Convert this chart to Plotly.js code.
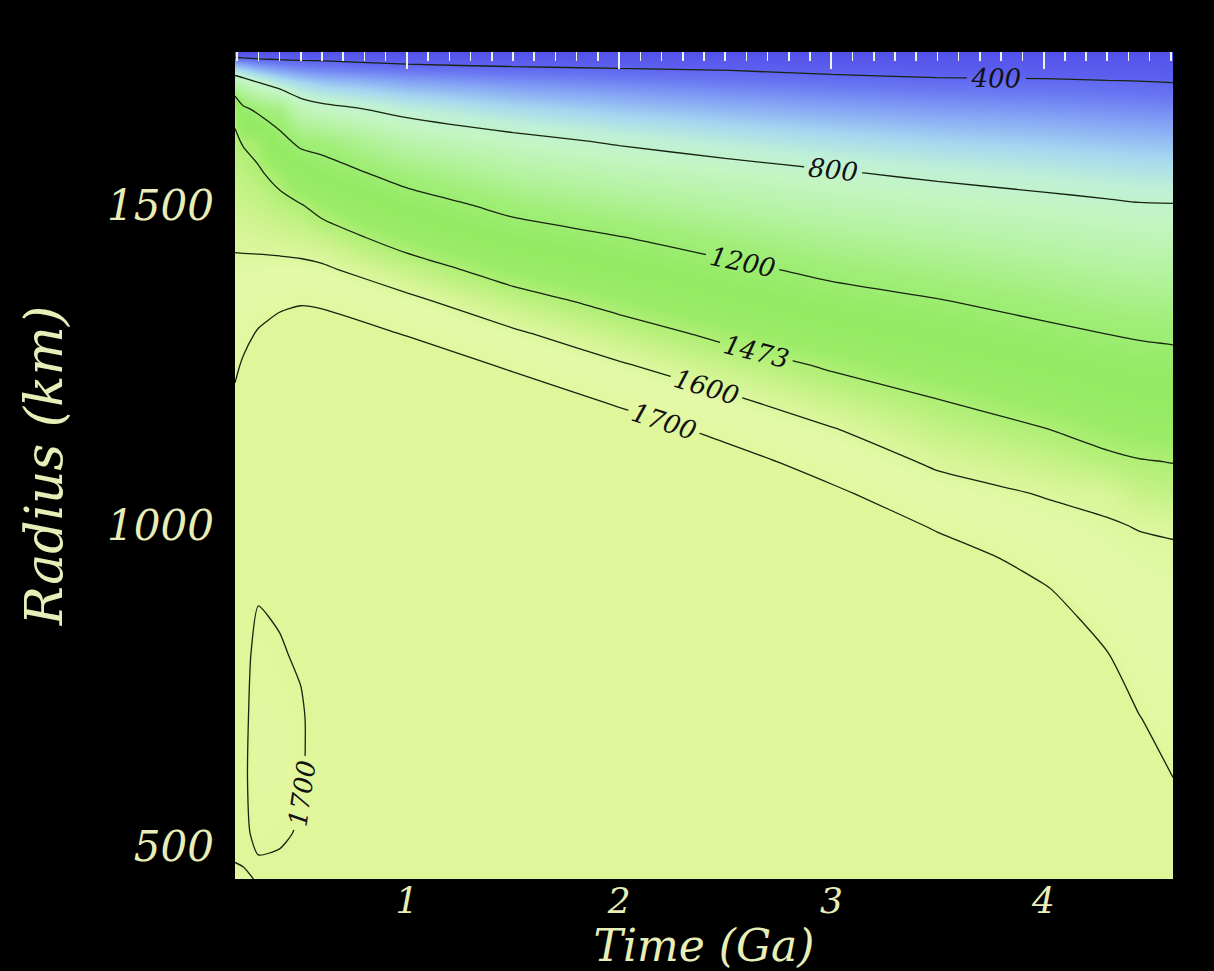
<!DOCTYPE html>
<html>
<head>
<meta charset="utf-8">
<script src="https://cdn.plot.ly/plotly-3.0.1.min.js"></script>
<style>
html,body{margin:0;padding:0;background:#000;}
#chart{width:1214px;height:971px;}
</style>
</head>
<body>
<div id="chart"></div>
<script>
// Time (Ga) columns
const time = [0.19, 0.23, 0.3, 0.4, 0.5, 0.6, 1.0, 1.5, 2.0, 2.5, 3.0, 3.5, 4.0, 4.3, 4.45, 4.61];
// Radius (km) rows, bottom to top
const radius = [449, 480, 520, 600, 700, 800, 900, 950, 1000, 1050, 1100, 1150, 1200, 1250, 1300, 1350, 1400, 1450, 1500, 1550, 1600, 1650, 1690, 1710, 1725, 1739];
// Temperature (K), one row per radius
const temperature = [
  [1690,1694,1703,1705,1706,1709,1800,1800,1800,1800,1800,1800,1800,1800,1790,1743],
  [1702,1704,1701,1702,1705,1709,1800,1800,1800,1800,1800,1800,1800,1800,1779,1735],
  [1710,1704,1695,1697,1702,1709,1800,1800,1800,1800,1800,1800,1800,1800,1765,1724],
  [1716,1703,1692,1693,1698,1710,1800,1800,1800,1800,1800,1800,1800,1798,1737,1702],
  [1720,1704,1692,1693,1697,1712,1800,1800,1800,1800,1800,1800,1800,1750,1702,1675],
  [1722,1706,1694,1698,1703,1720,1800,1800,1800,1800,1800,1800,1780,1702,1667,1648],
  [1722,1710,1702,1704,1709,1730,1800,1800,1800,1800,1800,1793,1707,1654,1632,1621],
  [1722,1712,1705,1707,1715,1740,1800,1800,1800,1800,1800,1741,1670,1630,1615,1608],
  [1721,1713,1707,1709,1722,1750,1800,1800,1800,1800,1772,1690,1634,1606,1597,1594],
  [1720,1714,1709,1711,1730,1760,1800,1800,1800,1800,1717,1638,1595,1583,1536,1524],
  [1718,1715,1710,1712,1740,1770,1800,1800,1800,1737,1661,1585,1537,1498,1480,1470],
  [1716,1715,1711,1713,1750,1780,1800,1800,1748,1675,1606,1528,1478,1429,1408,1397],
  [1711,1714,1711,1713,1760,1790,1800,1756,1679,1612,1535,1470,1398,1352,1334,1324],
  [1687,1710,1710,1715,1770,1790,1764,1686,1611,1533,1459,1383,1317,1275,1261,1251],
  [1663,1679,1707,1737,1757,1752,1694,1615,1529,1444,1362,1296,1236,1198,1183,1172],
  [1638,1648,1664,1681,1691,1684,1625,1525,1434,1342,1264,1209,1144,1104,1090,1081],
  [1614,1617,1621,1625,1624,1615,1532,1414,1319,1239,1161,1102,1044,1009, 996, 989],
  [1587,1583,1577,1565,1553,1533,1415,1285,1205,1121,1045, 992, 944, 915, 903, 897],
  [1553,1545,1531,1503,1480,1429,1282,1149,1065, 992, 929, 883, 844, 821, 809, 806],
  [1520,1508,1485,1440,1332,1282,1130, 998, 924, 864, 814, 771, 737, 716, 705, 701],
  [1486,1465,1439,1250,1159,1136, 944, 848, 780, 726, 683, 648, 625, 608, 600, 595],
  [1453,1240,1154,1103, 903, 853, 747, 667, 616, 579, 549, 526, 512, 501, 495, 489],
  [ 953, 898, 816, 717, 658, 618, 553, 511, 484, 461, 443, 428, 422, 415, 411, 404],
  [ 705, 671, 608, 550, 516, 493, 457, 434, 418, 402, 382, 366, 362, 353, 349, 343],
  [ 503, 477, 448, 425, 410, 402, 371, 353, 339, 324, 314, 306, 304, 300, 298, 295],
  [ 250, 250, 250, 250, 250, 250, 250, 250, 250, 250, 250, 250, 250, 250, 250, 250]
];
const contourLevels = [400, 800, 1200, 1473, 1600, 1700];
const xTickVals = [1, 2, 3, 4];
const yTickVals = [500, 1000, 1500];

const Tmin = 250, Tmax = 1800;
const colorStops = [
  [250, 'rgb(82,82,235)'],
  [380, 'rgb(92,95,238)'],
  [450, 'rgb(105,118,242)'],
  [550, 'rgb(135,168,245)'],
  [650, 'rgb(165,215,240)'],
  [750, 'rgb(190,240,215)'],
  [850, 'rgb(196,245,195)'],
  [1000, 'rgb(180,243,160)'],
  [1150, 'rgb(160,238,120)'],
  [1300, 'rgb(148,234,98)'],
  [1420, 'rgb(155,236,102)'],
  [1500, 'rgb(185,240,125)'],
  [1570, 'rgb(212,245,148)'],
  [1630, 'rgb(228,249,168)'],
  [1690, 'rgb(228,248,162)'],
  [1700, 'rgb(224,246,154)'],
  [1800, 'rgb(224,246,154)']
];
const colorscale = colorStops.map(s => [(s[0] - Tmin) / (Tmax - Tmin), s[1]]);

const textColor = '#e8eeb8';
const serif = 'DejaVu Serif';

const traces = [{
  type: 'heatmap',
  x: time, y: radius, z: temperature,
  zsmooth: 'best',
  colorscale: colorscale,
  zmin: Tmin, zmax: Tmax,
  showscale: false,
  hoverinfo: 'skip'
}];

contourLevels.forEach((lev, i) => {
  traces.push({
    type: 'contour',
    x: time, y: radius, z: temperature,
    xaxis: i === 0 ? 'x2' : 'x',
    autocontour: false,
    contours: {
      start: lev, end: lev, size: 10000,
      coloring: 'none',
      showlabels: true,
      labelfont: {family: serif, size: 26, color: '#111', style: 'italic'}
    },
    line: {color: '#17240f', width: 1.3, smoothing: 0.6},
    showscale: false,
    hoverinfo: 'skip'
  });
});

const layout = {
  width: 1214, height: 971,
  paper_bgcolor: '#000', plot_bgcolor: '#000',
  margin: {l: 235, r: 41, t: 52, b: 92},
  showlegend: false,
  xaxis: {
    range: [0.19, 4.61],
    tickvals: xTickVals,
    ticks: '',
    showgrid: false, zeroline: false, showline: false,
    tickfont: {family: serif, size: 36, color: textColor, style: 'italic'},
    ticklabelstandoff: -3,
    title: {text: 'Time (Ga)', font: {family: serif, size: 44, color: textColor, style: 'italic'}, standoff: 7}
  },
  xaxis2: {
    overlaying: 'x', side: 'top',
    range: [0.19, 4.61],
    showgrid: false, zeroline: false, showline: false,
    ticks: 'inside', tick0: 0, dtick: 1, ticklen: 17, tickwidth: 2, tickcolor: '#eef0e2',
    showticklabels: false,
    minor: {tick0: 0, dtick: 0.1, ticks: 'inside', ticklen: 9, tickwidth: 1.5, tickcolor: '#eef0e2'}
  },
  yaxis: {
    range: [449, 1739],
    tickvals: yTickVals,
    ticks: '',
    showgrid: false, zeroline: false, showline: false,
    tickfont: {family: serif, size: 42, color: textColor, style: 'italic'},
    ticklabelstandoff: 20,
    title: {text: 'Radius (km)', font: {family: serif, size: 52, color: textColor, style: 'italic'}, standoff: 27}
  }
};

Plotly.newPlot('chart', traces, layout, {staticPlot: true, displayModeBar: false});
</script>
</body>
</html>
